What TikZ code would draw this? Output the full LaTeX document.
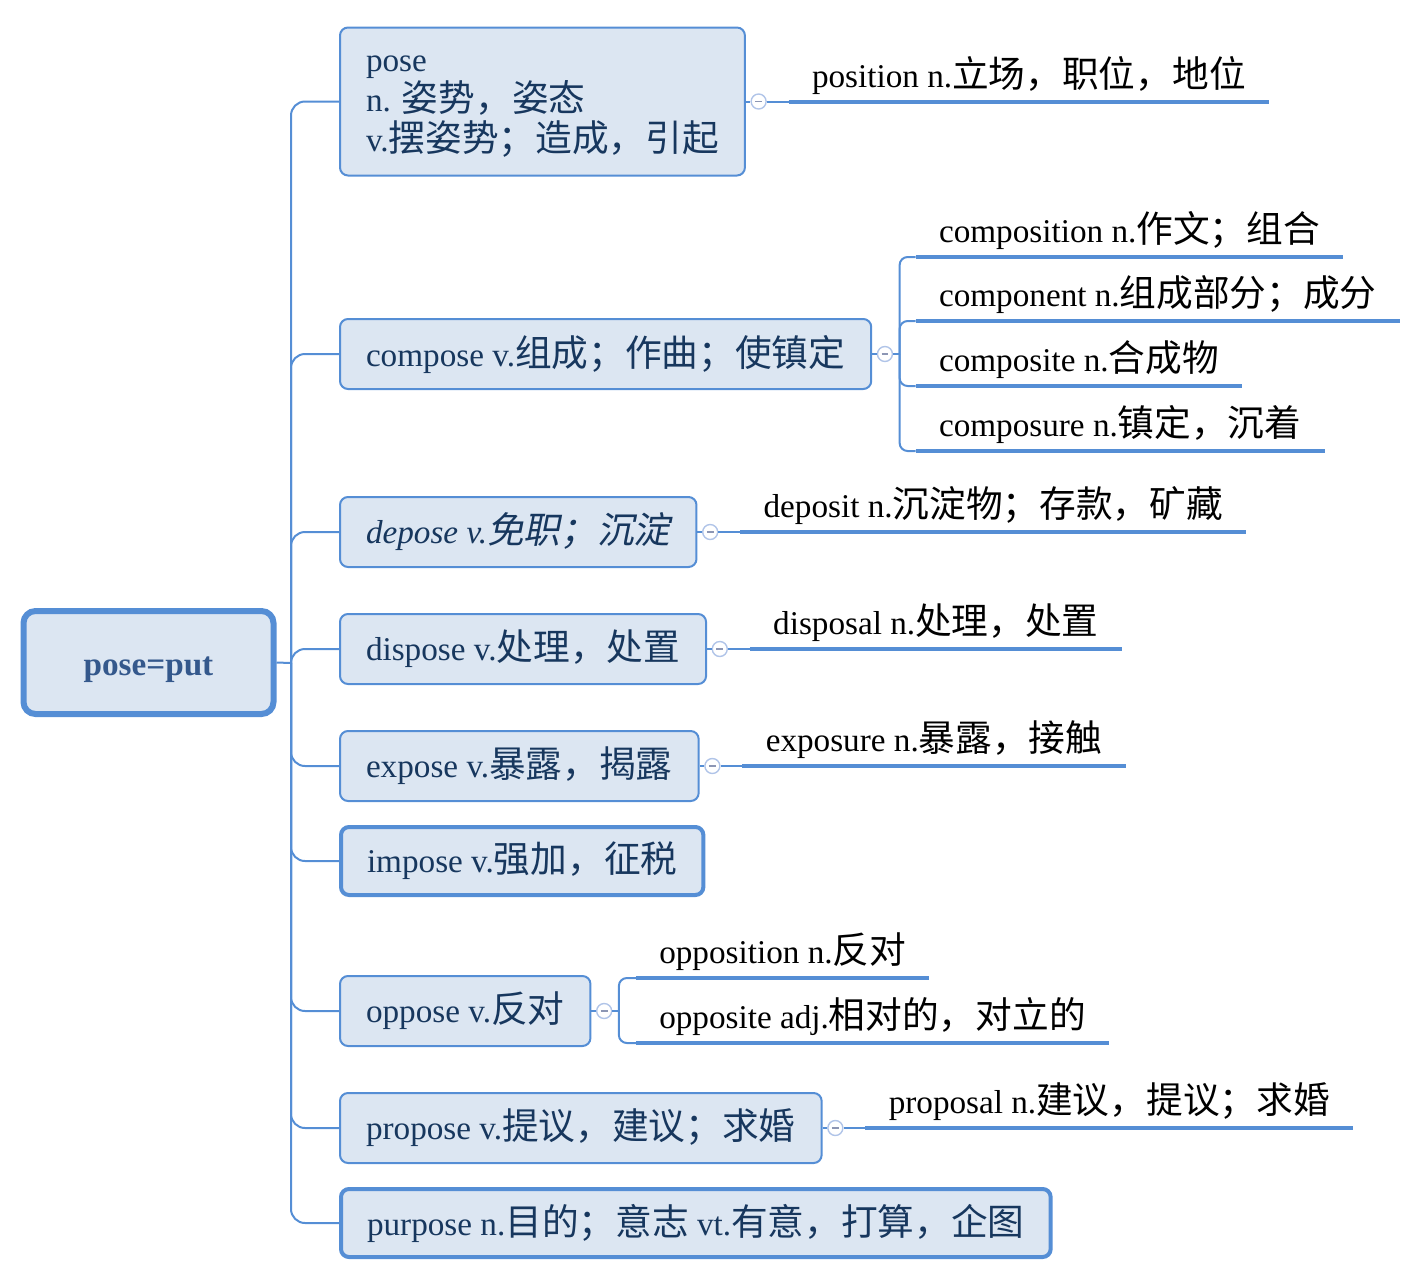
\documentclass[tikz,border=0pt]{standalone}
\usepackage{fontspec}
\setmainfont{Liberation Serif}
\newfontfamily\zhfont[Scale=1.105]{Noto Sans CJK SC}
\newfontfamily\zhitfont[Scale=1.105,FakeSlant=0.2]{Noto Sans CJK SC}
\newcommand{\zhtxt}[1]{{\zhfont #1}}
\newcommand{\zhittxt}[1]{{\zhitfont #1}}
\usetikzlibrary{positioning}

\definecolor{mapblue}{RGB}{85,142,213}
\definecolor{boxfill}{RGB}{220,230,242}
\definecolor{boxtext}{RGB}{23,55,94}
\definecolor{roottext}{RGB}{52,88,140}
\definecolor{dotblue}{RGB}{176,196,232}
\definecolor{dotminus}{RGB}{140,150,180}

\tikzset{
  link/.style={draw=mapblue, line width=1pt},
  fork/.style={link, rounded corners=7pt},
  subfork/.style={link, rounded corners=4pt},
  uline/.style={draw=mapblue, line width=2pt},
  rootbox/.style={draw=mapblue, line width=3pt, fill=boxfill, rounded corners=6pt,
    minimum width=125pt, minimum height=51.5pt, text=roottext, text height=14pt, text depth=1pt},
  wordbox/.style={draw=mapblue, line width=1pt, fill=boxfill, rounded corners=4pt,
    text=boxtext, minimum height=35pt, inner xsep=13pt, anchor=west},
  wordboxthick/.style={wordbox, line width=2pt, minimum height=34pt},
  leaf/.style={anchor=south west, inner xsep=11.5pt, inner ysep=7pt, text depth=0pt},
  dot/.style={circle, draw=dotblue, fill=white, line width=0.7pt, minimum size=7.5pt, inner sep=0pt,
    path picture={\draw[dotminus, line width=0.9pt]
      ([xshift=-1.7pt]path picture bounding box.center) -- ([xshift=1.7pt]path picture bounding box.center);}}
}

\begin{document}
\begin{tikzpicture}[x=0.5pt,y=-0.5pt,font=\fontsize{16.6}{20}\selectfont]
\useasboundingbox (0,0) rectangle (1409,1275);

%Root
\node[rootbox] (root) at (148.5,662.5) {\textbf{pose=put}};
\coordinate (trunk) at (291,663);
\draw[link] (root.east) -- (trunk);

%Branch: pose
\node[wordbox, align=left, minimum height=74pt] (pose) at (339,101.5)
  {\rule{0pt}{12.5pt}pose\\n. \zhtxt{姿势，姿态}\\v.\zhtxt{摆姿势；造成，引起}};
\draw[fork] (trunk) |- (pose.west);
\node[dot, right=2.25pt of pose] (poseDot) {};
\node[leaf] (position) at ([xshift=15pt]poseDot.center) {position n.\zhtxt{立场，职位，地位}};
\draw[link] (pose) -- (poseDot) -- (position.south west);
\draw[uline] (position.south west) -- (position.south east);

%Branch: compose
\node[wordbox] (compose) at (339,354) {compose v.\zhtxt{组成；作曲；使镇定}};
\draw[fork] (trunk) |- (compose.west);
\node[dot, right=2.25pt of compose] (composeDot) {};
\coordinate[right=3.25pt of composeDot] (composeFork);
\draw[link] (compose) -- (composeDot) -- (composeFork);
\node[leaf] (composition) at ([xshift=8pt,yshift=48.5pt]composeFork) {composition n.\zhtxt{作文；组合}};
\node[leaf] (component) at ([xshift=8pt,yshift=16.5pt]composeFork) {component n.\zhtxt{组成部分；成分}};
\node[leaf] (composite) at ([xshift=8pt,yshift=-16pt]composeFork) {composite n.\zhtxt{合成物}};
\node[leaf] (composure) at ([xshift=8pt,yshift=-48.5pt]composeFork) {composure n.\zhtxt{镇定，沉着}};
\foreach \w in {composition,component,composite,composure}{
  \draw[subfork] (composeFork) |- (\w.south west);
  \draw[uline] (\w.south west) -- (\w.south east);
}

%Branch: depose
\node[wordbox] (depose) at (339,532) {\textit{depose v.}\zhittxt{免职；沉淀}};
\draw[fork] (trunk) |- (depose.west);
\node[dot, right=2.25pt of depose] (deposeDot) {};
\node[leaf] (deposit) at ([xshift=15pt]deposeDot.center) {deposit n.\zhtxt{沉淀物；存款，矿藏}};
\draw[link] (depose) -- (deposeDot) -- (deposit.south west);
\draw[uline] (deposit.south west) -- (deposit.south east);

%Branch: dispose
\node[wordbox] (dispose) at (339,649) {dispose v.\zhtxt{处理，处置}};
\draw[fork] (trunk) |- (dispose.west);
\node[dot, right=2.25pt of dispose] (disposeDot) {};
\node[leaf] (disposal) at ([xshift=15pt]disposeDot.center) {disposal n.\zhtxt{处理，处置}};
\draw[link] (dispose) -- (disposeDot) -- (disposal.south west);
\draw[uline] (disposal.south west) -- (disposal.south east);

%Branch: expose
\node[wordbox] (expose) at (339,766) {expose v.\zhtxt{暴露，揭露}};
\draw[fork] (trunk) |- (expose.west);
\node[dot, right=2.25pt of expose] (exposeDot) {};
\node[leaf] (exposure) at ([xshift=15pt]exposeDot.center) {exposure n.\zhtxt{暴露，接触}};
\draw[link] (expose) -- (exposeDot) -- (exposure.south west);
\draw[uline] (exposure.south west) -- (exposure.south east);

%Branch: impose
\node[wordboxthick] (impose) at (339,861) {impose v.\zhtxt{强加，征税}};
\draw[fork] (trunk) |- (impose.west);

%Branch: oppose
\node[wordbox] (oppose) at (339,1011) {oppose v.\zhtxt{反对}};
\draw[fork] (trunk) |- (oppose.west);
\node[dot, right=2.25pt of oppose] (opposeDot) {};
\coordinate[right=3.25pt of opposeDot] (opposeFork);
\draw[link] (oppose) -- (opposeDot) -- (opposeFork);
\node[leaf] (opposition) at ([xshift=8.5pt,yshift=16.5pt]opposeFork) {opposition n.\zhtxt{反对}};
\node[leaf] (opposite) at ([xshift=8.5pt,yshift=-16pt]opposeFork) {opposite adj.\zhtxt{相对的，对立的}};
\foreach \w in {opposition,opposite}{
  \draw[subfork] (opposeFork) |- (\w.south west);
  \draw[uline] (\w.south west) -- (\w.south east);
}

%Branch: propose
\node[wordbox] (propose) at (339,1128) {propose v.\zhtxt{提议，建议；求婚}};
\draw[fork] (trunk) |- (propose.west);
\node[dot, right=2.25pt of propose] (proposeDot) {};
\node[leaf] (proposal) at ([xshift=15pt]proposeDot.center) {proposal n.\zhtxt{建议，提议；求婚}};
\draw[link] (propose) -- (proposeDot) -- (proposal.south west);
\draw[uline] (proposal.south west) -- (proposal.south east);

%Branch: purpose
\node[wordboxthick] (purpose) at (339,1223) {purpose n.\zhtxt{目的；意志} vt.\zhtxt{有意，打算，企图}};
\draw[fork] (trunk) |- (purpose.west);

\end{tikzpicture}
\end{document}
